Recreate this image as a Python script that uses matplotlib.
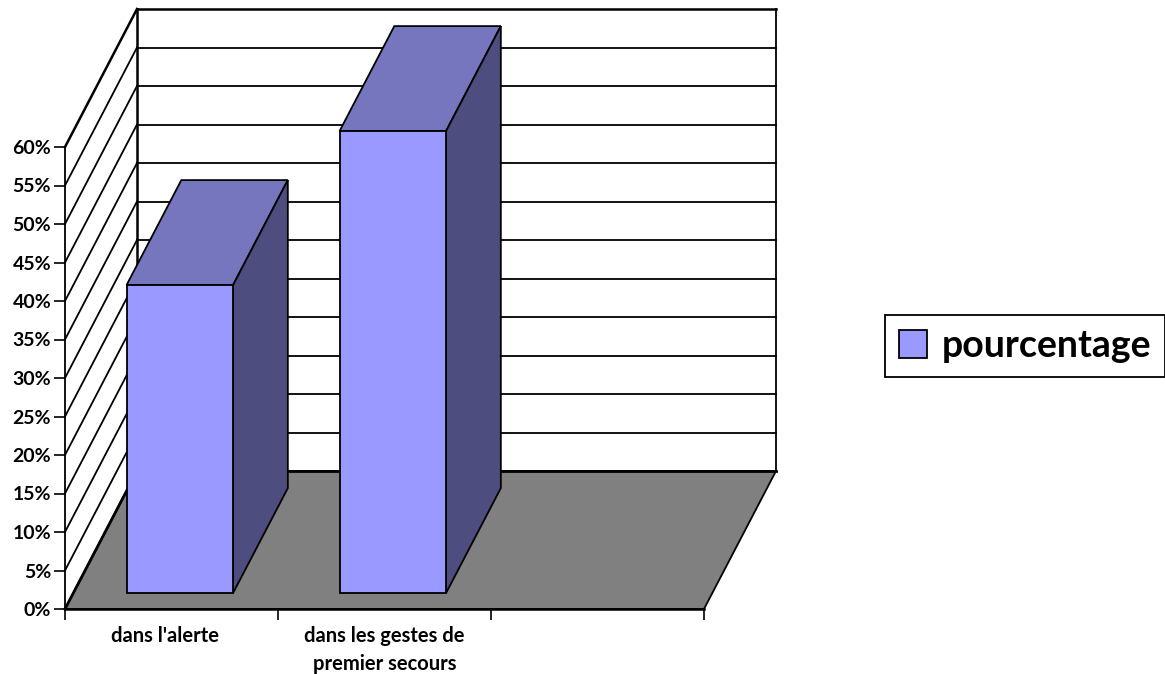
import matplotlib
matplotlib.use("Agg")
import matplotlib.pyplot as plt
from matplotlib.patches import Polygon, Patch

# Donnees du graphique
categories = ["dans l'alerte", "dans les gestes de\npremier secours", ""]
pourcentages = [40, 60]
graduations = list(range(0, 65, 5))
etiquettes_y = [f"{g}%" for g in graduations]

plt.rcParams['font.family'] = ['Lato', 'DejaVu Sans']

W, H = 1165, 674
fig = plt.figure(figsize=(W / 100, H / 100), dpi=100)
ax = fig.add_axes([65 / W, (H - 609) / H, (704 - 65) / W, (609 - 147) / H])
ax.set_xlim(0, 3)
ax.set_ylim(0, 60)
for cote in ['top', 'right']:
    ax.spines[cote].set_visible(False)
ax.spines['left'].set_linewidth(1.3)
ax.spines['bottom'].set_linewidth(1.8)
ax.patch.set_visible(False)

# Decalage oblique de la profondeur, en unites de donnees
DX = 72 / 213.0
DY = 138 / 7.7


def proj(x, y, p):
    return (x + p * DX, y + p * DY)


def poly(points, couleur, lw=1.3, z=2):
    ax.add_patch(Polygon(points, closed=True, facecolor=couleur, edgecolor='black',
                         linewidth=lw, clip_on=False, zorder=z, joinstyle='miter'))


def ligne(a, b, lw=1.3, z=1):
    ax.plot([a[0], b[0]], [a[1], b[1]], color='black', linewidth=lw,
            clip_on=False, zorder=z, solid_capstyle='projecting')


# Parois et grille
for g in graduations:
    ligne(proj(0, g, 0), proj(0, g, 1), lw=1.8 if g == 60 else 1.3)
    ligne(proj(0, g, 1), proj(3, g, 1), lw=1.8 if g == 60 else 1.3)
ligne(proj(0, 0, 1), proj(0, 60, 1), lw=1.8)
ligne(proj(3, 0, 1), proj(3, 60, 1), lw=1.3)

# Sol
poly([proj(0, 0, 0), proj(3, 0, 0), proj(3, 0, 1), proj(0, 0, 1)], '#808080', lw=1.3, z=1.5)
ligne(proj(0, 0, 1), proj(3, 0, 1), lw=2, z=1.6)
ligne(proj(0, 0, 0), proj(0, 0, 1), lw=2, z=1.6)

# Barres en perspective
P1, P2 = 0.116, 0.876
for i, v in enumerate(pourcentages):
    x0, x1 = i + 0.25, i + 0.75
    poly([proj(x0, v, P1), proj(x1, v, P1), proj(x1, v, P2), proj(x0, v, P2)], '#7676BE', z=3)
    poly([proj(x1, 0, P1), proj(x1, 0, P2), proj(x1, v, P2), proj(x1, v, P1)], '#4D4D80', z=3)
    poly([proj(x0, 0, P1), proj(x1, 0, P1), proj(x1, v, P1), proj(x0, v, P1)], '#9999FF', z=4)

# Axes
ax.set_yticks(graduations)
ax.set_yticklabels(etiquettes_y, fontsize=14, fontweight='bold')
ax.tick_params(axis='y', length=8, width=1.2, pad=2)
ax.set_xticks([0, 1, 2, 3])
ax.set_xticklabels([])
ax.tick_params(axis='x', which='major', length=8, width=1.2)
ax.set_xticks([0.47, 1.5, 2.5], minor=True)
ax.set_xticklabels(categories, minor=True, fontsize=14.5, fontweight='bold', linespacing=1.5)
ax.tick_params(axis='x', which='minor', length=0, pad=12)

# Legende
leg = fig.legend(handles=[Patch(facecolor='#9999FF', edgecolor='black', linewidth=1.3, label='pourcentage')],
                 loc='center right', bbox_to_anchor=(1165 / W, (H - 346) / H), borderaxespad=0,
                 frameon=True, fancybox=False, edgecolor='black', framealpha=1,
                 handlelength=0.75, handleheight=0.75, handletextpad=0.38, borderpad=0.38,
                 prop={'weight': 'bold', 'size': 27})
leg.get_frame().set_linewidth(1.3)

plt.savefig('out.png', dpi=100)
